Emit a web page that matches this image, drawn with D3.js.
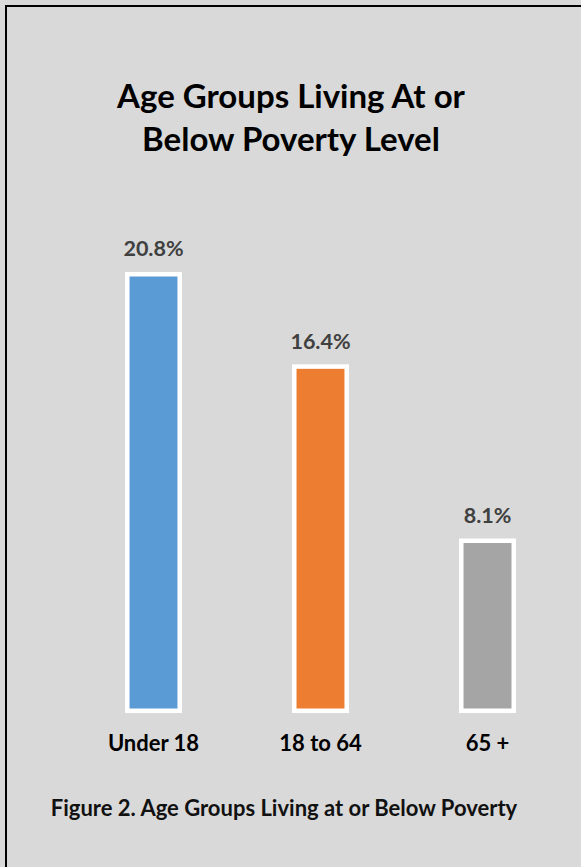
<!DOCTYPE html>
<html>
<head>
<meta charset="utf-8">
<script src="https://cdn.jsdelivr.net/npm/d3@7"></script>
<style>
html,body{margin:0;padding:0;background:#d9d9d9;}
svg{display:block;}
</style>
</head>
<body>
<script>
const categories = ["Under 18", "18 to 64", "65 +"];
const values = [20.8, 16.4, 8.1];
const valueLabels = ["20.8%", "16.4%", "8.1%"];
const colors = ["#5b9bd5", "#ed7d31", "#a5a5a5"];
const titleLines = ["Age Groups Living At or", "Below Poverty Level"];
const caption = "Figure 2. Age Groups Living at or Below Poverty";

const W = 581, H = 867;
const font = "Lato, 'Open Sans', sans-serif";

const svg = d3.select("body").append("svg").attr("width", W).attr("height", H);
svg.append("rect").attr("width", W).attr("height", H).attr("fill", "#d9d9d9");

// frame lines
svg.append("line").attr("x1", 6).attr("x2", W).attr("y1", 6).attr("y2", 6)
  .attr("stroke", "#000").attr("stroke-width", 2);
svg.append("line").attr("x1", 6).attr("x2", 6).attr("y1", 5).attr("y2", H)
  .attr("stroke", "#000").attr("stroke-width", 2);

// title
svg.append("text").attr("text-anchor", "middle").attr("font-family", font)
  .attr("font-weight", 700).attr("font-size", 33).attr("fill", "#000")
  .selectAll("tspan").data(titleLines).join("tspan")
  .attr("x", 291).attr("y", (d, i) => 108 + i * 43).text(d => d);

const x = d3.scaleBand().domain(categories).range([70, 571])
  .paddingInner(0.686).paddingOuter(0.343);
const y = d3.scaleLinear().domain([0, 20.8]).range([710.75, 274.25]);

const data = categories.map((c, i) => ({c, v: values[i], label: valueLabels[i], color: colors[i]}));

svg.selectAll("rect.bar").data(data).join("rect").attr("class", "bar")
  .attr("x", d => x(d.c)).attr("width", x.bandwidth())
  .attr("y", d => y(d.v)).attr("height", d => y(0) - y(d.v))
  .attr("fill", d => d.color).attr("stroke", "#fff").attr("stroke-width", 4.5);

svg.selectAll("text.val").data(data).join("text").attr("class", "val")
  .attr("x", d => x(d.c) + x.bandwidth() / 2).attr("y", d => y(d.v) - 18)
  .attr("text-anchor", "middle").attr("font-family", font).attr("font-weight", 700)
  .attr("font-size", 21.5).attr("fill", "#404040").text(d => d.label);

// category axis
const axis = d3.axisBottom(x).tickSize(0).tickPadding(0);
const g = svg.append("g").attr("transform", "translate(0,751)").call(axis);
g.select(".domain").remove();
g.selectAll("text").attr("font-family", font).attr("font-weight", 700)
  .attr("font-size", 22).attr("fill", "#000").attr("dy", 0).attr("y", 0);

svg.append("text").attr("x", 284).attr("y", 816).attr("text-anchor", "middle")
  .attr("font-family", font).attr("font-weight", 700).attr("font-size", 22)
  .attr("fill", "#111").text(caption);
</script>
</body>
</html>
